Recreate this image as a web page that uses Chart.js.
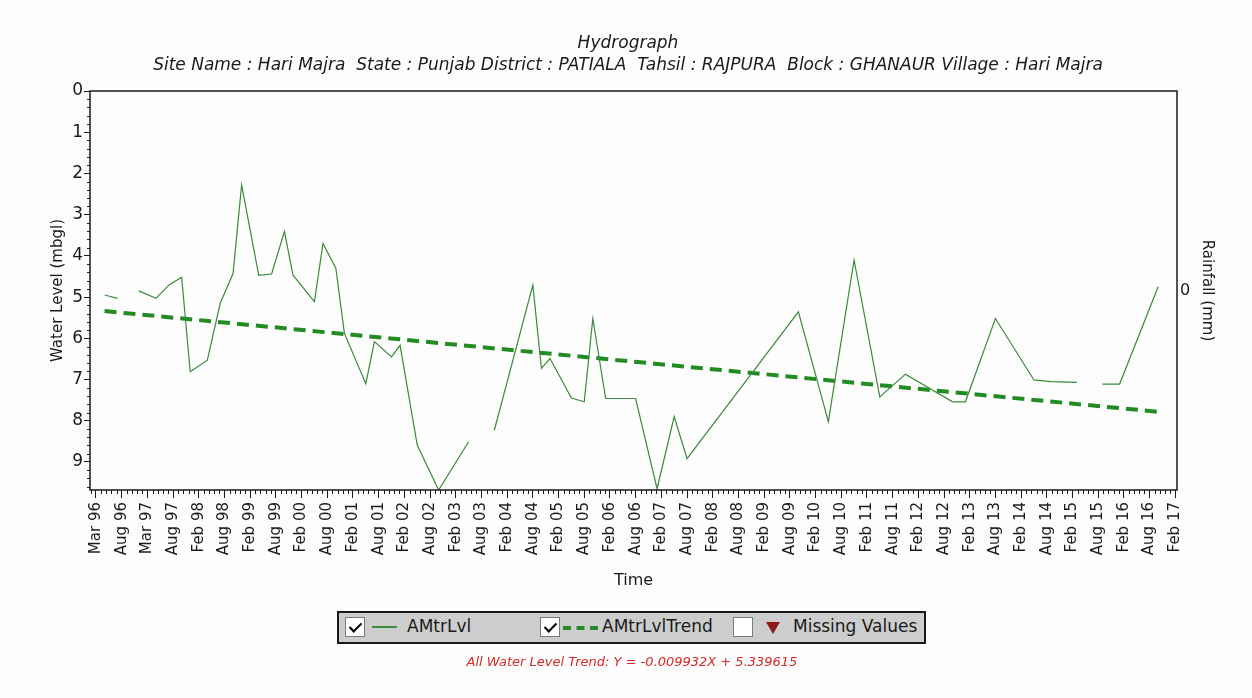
<!DOCTYPE html>
<html>
<head>
<meta charset="utf-8">
<title>Hydrograph - Hari Majra</title>
<script src="https://cdn.jsdelivr.net/npm/chart.js@4.4.1/dist/chart.umd.min.js"></script>
<style>
  body { margin: 0; background: #fdfdfd; font-family: "DejaVu Sans", sans-serif; color: #1a1a1a; }
  #page { position: relative; width: 1252px; height: 698px; overflow: hidden; }
  #hydro { position: absolute; left: 0; top: 0; }
  #legend { position: absolute; left: 337px; top: 611px; width: 589px; height: 33px; box-sizing: border-box;
            border: 2px solid #1a1a1a; background: #cdcdcd; font-size: 17px; }
  #legend > * { position: absolute; }
  .cb { top: 4px; width: 20px; height: 20px; box-sizing: border-box; background: #fff; border: 1px solid #7a7a7a; }
  .cb.on::after { content: ''; position: absolute; left: 6px; top: 2px; width: 5px; height: 10px;
                  border: solid #000; border-width: 0 2px 2px 0; transform: rotate(45deg); }
  .swatch { top: 13px; width: 25px; height: 0; border-top: 2px solid #3d8f3d; }
  .swatch.dash { width: 35px; border-top: 4px dashed #2a8a2a; }
  .tri { top: 9px; width: 0; height: 0; border-left: 7px solid transparent; border-right: 7px solid transparent;
         border-top: 12px solid #8e1b1b; }
  .lbl { top: 3px; line-height: 21px; white-space: nowrap; }
  #trendNote { position: absolute; left: 0; width: 1264px; top: 654px; text-align: center;
               font-size: 13px; font-style: italic; color: #d42a2a; }
</style>
</head>
<body>
<div id="page">
  <canvas id="hydro" width="1252" height="698"></canvas>
  <div id="legend">
    <span class="cb on" style="left:6px"></span>
    <span class="swatch" style="left:33px"></span>
    <span class="lbl" style="left:68px">AMtrLvl</span>
    <span class="cb on" style="left:201px"></span>
    <span class="swatch dash" style="left:224px"></span>
    <span class="lbl" style="left:263px">AMtrLvlTrend</span>
    <span class="cb" style="left:394px"></span>
    <span class="tri" style="left:427px"></span>
    <span class="lbl" style="left:454px">Missing Values</span>
  </div>
  <div id="trendNote"></div>
</div>
<script>
// tick labels along the time axis, one every half year starting Mar 96
const TICK_LABELS = ['Mar 96', 'Aug 96', 'Mar 97', 'Aug 97', 'Feb 98', 'Aug 98', 'Feb 99', 'Aug 99',
  'Feb 00', 'Aug 00', 'Feb 01', 'Aug 01', 'Feb 02', 'Aug 02', 'Feb 03', 'Aug 03', 'Feb 04', 'Aug 04',
  'Feb 05', 'Aug 05', 'Feb 06', 'Aug 06', 'Feb 07', 'Aug 07', 'Feb 08', 'Aug 08', 'Feb 09', 'Aug 09',
  'Feb 10', 'Aug 10', 'Feb 11', 'Aug 11', 'Feb 12', 'Aug 12', 'Feb 13', 'Aug 13', 'Feb 14', 'Aug 14',
  'Feb 15', 'Aug 15', 'Feb 16', 'Aug 16', 'Feb 17'];
const DEPTH_TICKS = [0, 1, 2, 3, 4, 5, 6, 7, 8, 9];
const RAIN_TICKS = [0];

// water level readings, metres below ground; null = missing reading (line breaks there)
const OBS_DATES = ['1996-05', '1996-08', '1996-11', '1997-01', '1997-05', '1997-08', '1997-11',
  '1998-01', '1998-05', '1998-08', '1998-11', '1999-01', '1999-05', '1999-08', '1999-11',
  '2000-01', '2000-06', '2000-08', '2000-11', '2001-01', '2001-06', '2001-08', '2001-12',
  '2002-02', '2002-06', '2002-11', '2003-06', '2003-09', '2003-12', '2004-09', '2004-11',
  '2005-01', '2005-06', '2005-09', '2005-11', '2006-02', '2006-09', '2007-02', '2007-06',
  '2007-09', '2009-11', '2010-06', '2010-12', '2011-06', '2011-12', '2012-11', '2013-02',
  '2013-09', '2014-06', '2014-10', '2015-04', '2015-07', '2015-10', '2016-02', '2016-11'];
const OBS_LEVELS = [4.95, 5.03, null, 4.85, 5.03, 4.71, 4.52,
  6.81, 6.53, 5.15, 4.43, 2.28, 4.47, 4.44, 3.41,
  4.47, 5.11, 3.70, 4.30, 5.88, 7.10, 6.08, 6.45,
  6.17, 8.59, 9.68, 8.51, null, 8.23, 4.71, 6.73,
  6.49, 7.45, 7.54, 5.52, 7.46, 7.46, 9.65, 7.90,
  8.92, 5.36, 8.02, 4.10, 7.42, 6.87, 7.54, 7.54,
  5.52, 7.01, 7.05, 7.07, null, 7.11, 7.11, 4.75];

// least-squares trend, X in months from the first reading
const TREND_SLOPE = -0.009932;
const TREND_INTERCEPT = 5.339615;

const X_RANGE = [-1.4, 252.4];
const FONT = 'DejaVu Sans';
const INK = '#1a1a1a';

// months counted from Mar 1996
const monthIndex = d => {
  const [yr, mo] = d.split('-').map(Number);
  return (yr - 1996) * 12 + (mo - 3);
};

const levelPoints = OBS_DATES.map((d, i) => ({ x: monthIndex(d), y: OBS_LEVELS[i] }));
const firstX = levelPoints[0].x;
const lastX = levelPoints[levelPoints.length - 1].x;
// depth axis points down, so a falling level is added depth
const trendAt = x => TREND_INTERCEPT - TREND_SLOPE * (x - firstX);
const trendPoints = [firstX, lastX].map(x => ({ x, y: trendAt(x) }));

document.getElementById('trendNote').textContent =
  `All Water Level Trend: Y = ${TREND_SLOPE.toFixed(6)}X + ${TREND_INTERCEPT.toFixed(6)}`;

// box round the plot plus the small in-between ticks on both axes
const frameTicks = {
  id: 'frameTicks',
  afterDraw(chart) {
    const { ctx, chartArea: a, scales: { x, y } } = chart;
    ctx.save();
    ctx.strokeStyle = INK;
    ctx.lineWidth = 1;
    ctx.beginPath();
    for (let k = -1; k * 1.2 <= x.max; k++) {
      if (k % 5 === 0) continue;
      const px = Math.round(x.getPixelForValue(k * 1.2)) + 0.5;
      if (px < a.left) continue;
      ctx.moveTo(px, a.bottom);
      ctx.lineTo(px, a.bottom + 4);
    }
    for (let k = 1; k * 0.2 <= y.max; k++) {
      if (k % 5 === 0) continue;
      const py = Math.round(y.getPixelForValue(k * 0.2)) + 0.5;
      ctx.moveTo(a.left - 3, py);
      ctx.lineTo(a.left, py);
    }
    ctx.stroke();
    ctx.lineWidth = 1.5;
    ctx.strokeRect(a.left, a.top, a.right - a.left, a.bottom - a.top);
    ctx.restore();
  }
};

new Chart(document.getElementById('hydro'), {
  type: 'line',
  data: {
    datasets: [
      {
        label: 'AMtrLvl',
        data: levelPoints,
        borderColor: '#3a8a3a',
        borderWidth: 1.2,
        pointRadius: 0,
        tension: 0,
        spanGaps: false,
        yAxisID: 'y'
      },
      {
        label: 'AMtrLvlTrend',
        data: trendPoints,
        borderColor: '#228b22',
        borderWidth: 4,
        borderDash: [12, 7],
        pointRadius: 0,
        yAxisID: 'y'
      }
    ]
  },
  options: {
    responsive: false,
    animation: false,
    devicePixelRatio: 1,
    layout: { padding: { top: 33, left: 12, right: 8, bottom: 105 } },
    scales: {
      x: {
        type: 'linear',
        min: X_RANGE[0],
        max: X_RANGE[1],
        afterBuildTicks: s => { s.ticks = TICK_LABELS.map((_, i) => ({ value: i * 6 })); },
        afterFit: s => { s.height = 103; },
        grid: { drawOnChartArea: false, drawTicks: true, tickLength: 8, tickColor: INK },
        border: { display: false },
        ticks: {
          autoSkip: false, minRotation: 90, maxRotation: 90, padding: 4, color: INK,
          font: { family: FONT, size: 15 },
          callback: (v, i) => TICK_LABELS[i]
        },
        title: { display: true, text: 'Time', color: INK, font: { family: FONT, size: 16 }, padding: { top: 0, bottom: 3 } }
      },
      y: {
        type: 'linear',
        position: 'left',
        reverse: true,
        min: 0,
        max: Math.max(...OBS_LEVELS.filter(v => v !== null)),
        afterBuildTicks: s => { s.ticks = DEPTH_TICKS.map(v => ({ value: v })); },
        afterFit: s => { s.width = 78; },
        grid: { drawOnChartArea: false, drawTicks: true, tickLength: 6, tickColor: INK },
        border: { display: false },
        ticks: { padding: 1, color: INK, font: { family: FONT, size: 17 } },
        title: {
          display: true, text: 'Water Level (mbgl)', color: INK,
          font: { family: FONT, size: 15 }, padding: { top: 37, bottom: 0 }
        }
      },
      rain: {
        type: 'linear',
        position: 'right',
        min: -1,
        max: 1,
        afterBuildTicks: s => { s.ticks = RAIN_TICKS.map(v => ({ value: v })); },
        afterFit: s => { s.width = 67; },
        grid: { drawOnChartArea: false, drawTicks: false },
        border: { display: false },
        ticks: { padding: 3, color: INK, font: { family: FONT, size: 16 } },
        title: {
          display: true, text: 'Rainfall (mm)', color: INK,
          font: { family: FONT, size: 15 }, padding: { top: 28, bottom: 0 }
        }
      }
    },
    plugins: {
      legend: { display: false },
      tooltip: { enabled: false },
      title: {
        display: true,
        text: ['Hydrograph',
          'Site Name : Hari Majra  State : Punjab District : PATIALA  Tahsil : RAJPURA  Block : GHANAUR Village : Hari Majra'],
        color: INK,
        font: { family: FONT, size: 17, style: 'italic', weight: 'normal', lineHeight: '22px' },
        padding: { top: 0, bottom: 14 }
      }
    }
  },
  plugins: [frameTicks]
});
</script>
</body>
</html>
